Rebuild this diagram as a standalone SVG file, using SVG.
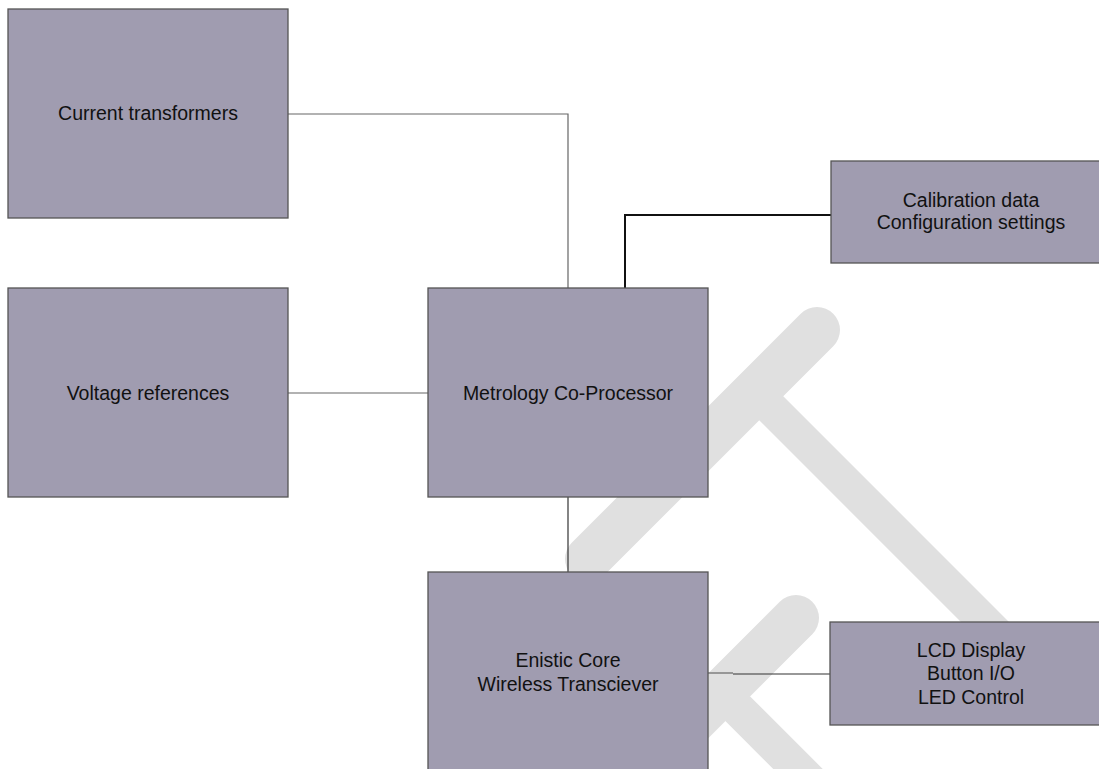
<svg xmlns="http://www.w3.org/2000/svg" width="1099" height="769" viewBox="0 0 1099 769">
<style>
.wm{fill:none;stroke:#e0e0e0;}
.box{fill:#a09cb0;stroke:#555;stroke-width:1.3;}
.lbl{font-family:"Liberation Sans",Arial,sans-serif;font-size:19.5px;fill:#111;text-anchor:middle;}
.c1{fill:none;stroke:#666;stroke-width:1.2;}
.c2{fill:none;stroke:#111;stroke-width:2;}
.c3{fill:none;stroke:#333;stroke-width:1.2;}
</style>
<rect width="1099" height="769" fill="#fff"/>
<g id="watermark">
<line class="wm" x1="755" y1="392" x2="1050" y2="687" stroke-width="34" stroke-linecap="round"/>
<line class="wm" x1="817" y1="330" x2="588" y2="559" stroke-width="46" stroke-linecap="round"/>
<line class="wm" x1="721" y1="692" x2="880" y2="851" stroke-width="35"/>
<line class="wm" x1="796" y1="618" x2="640" y2="774" stroke-width="46" stroke-linecap="round"/>
</g>
<g id="connectors">
<polyline class="c1" points="288,114 568,114 568,288"/>
<polyline class="c2" points="831,215 625,215 625,288"/>
<polyline class="c1" points="288,393 428,393"/>
<polyline class="c3" points="568,497 568,572"/>
<polyline class="c1" points="708,673 733,673"/>
<polyline class="c3" points="733,674 830,674"/>
</g>
<g id="current-transformers">
<rect class="box" x="8" y="9" width="280" height="209"/>
<text class="lbl" x="148" y="120">Current transformers</text>
</g>
<g id="voltage-references">
<rect class="box" x="8" y="288" width="280" height="209"/>
<text class="lbl" x="148" y="400">Voltage references</text>
</g>
<g id="metrology">
<rect class="box" x="428" y="288" width="280" height="209"/>
<text class="lbl" x="568" y="400">Metrology Co-Processor</text>
</g>
<g id="calibration">
<rect class="box" x="831" y="161" width="280" height="102"/>
<text class="lbl" x="971" y="207">Calibration data</text>
<text class="lbl" x="971" y="229">Configuration settings</text>
</g>
<g id="enistic-core">
<rect class="box" x="428" y="572" width="280" height="209"/>
<text class="lbl" x="568" y="667">Enistic Core</text>
<text class="lbl" x="568" y="691">Wireless Transciever</text>
</g>
<g id="lcd">
<rect class="box" x="830" y="622" width="280" height="103"/>
<text class="lbl" x="971" y="657">LCD Display</text>
<text class="lbl" x="971" y="680">Button I/O</text>
<text class="lbl" x="971" y="704">LED Control</text>
</g>
</svg>
